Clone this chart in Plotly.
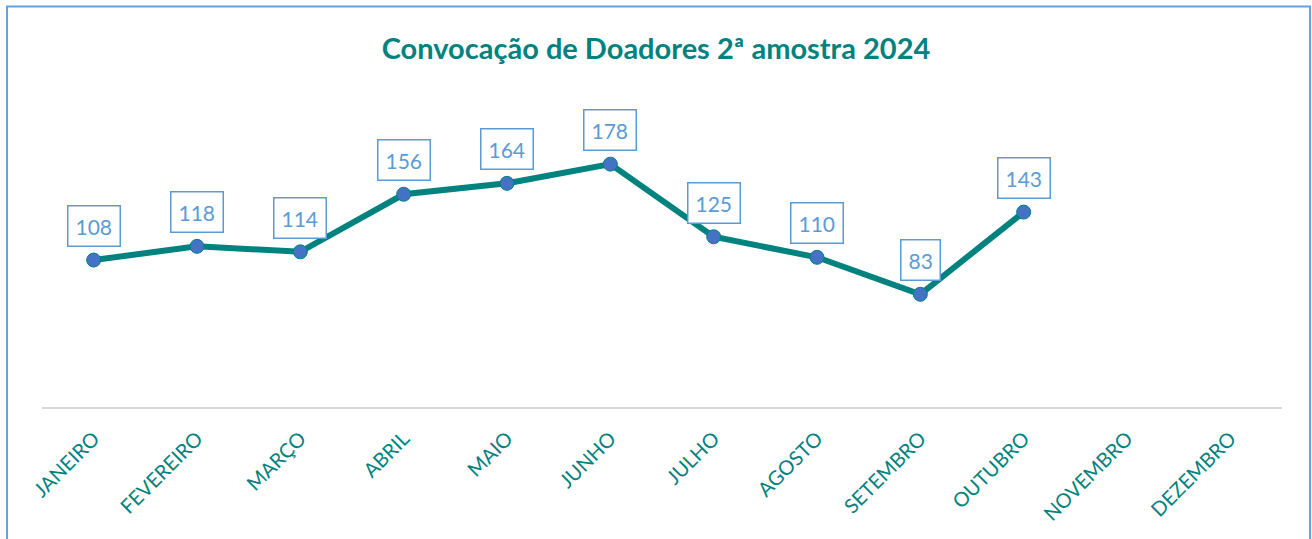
import plotly.graph_objects as go

# Monthly donor call-ups, second sample, 2024
meses = ["JANEIRO", "FEVEREIRO", "MARÇO", "ABRIL", "MAIO", "JUNHO",
         "JULHO", "AGOSTO", "SETEMBRO", "OUTUBRO", "NOVEMBRO", "DEZEMBRO"]
convocados = [108, 118, 114, 156, 164, 178, 125, 110, 83, 143, None, None]

TEAL = "#00827F"
BLUE_MARK = "#4472C4"
BOX_BLUE = "#5B9BD5"
FONT = "Lato"

fig = go.Figure()
fig.add_trace(go.Scatter(
    x=meses, y=convocados, mode="lines+markers",
    line=dict(color=TEAL, width=6),
    marker=dict(color=BLUE_MARK, size=14, line=dict(color=TEAL, width=1)),
    cliponaxis=False, showlegend=False, hoverinfo="x+y",
))

# Boxed value labels above each point
for m, v in zip(meses, convocados):
    if v is None:
        continue
    fig.add_annotation(
        x=m, y=v, text=str(v), showarrow=False, yshift=34,
        font=dict(family=FONT, size=21, color=BOX_BLUE),
        bordercolor=BOX_BLUE, borderwidth=1.5, borderpad=7, bgcolor="white",
    )

# Outer frame of the chart area
fig.add_shape(type="rect", xref="paper", yref="paper",
              x0=-0.0282, x1=1.0226, y0=-0.7, y1=1.4656,
              line=dict(color="#6A9FD8", width=2), layer="below")

fig.update_layout(
    width=1312, height=539,
    margin=dict(l=42, r=30, t=134, b=131),
    paper_bgcolor="white", plot_bgcolor="white",
    title=dict(text="<b>Convocação de Doadores 2ª amostra 2024</b>",
               x=0.5, xanchor="center", y=0.91, yanchor="middle",
               font=dict(family=FONT, size=29, color=TEAL)),
    xaxis=dict(type="category", range=[-0.5, 11.5], tickangle=-45,
               showgrid=False, zeroline=False, showline=False, ticks="",
               ticklabelstandoff=14,
               tickfont=dict(family=FONT, size=20, color=TEAL)),
    yaxis=dict(range=[0, 200], showgrid=False, showticklabels=False,
               zeroline=True, zerolinecolor="#D9D9D9", zerolinewidth=2,
               showline=False, ticks=""),
)

fig.write_html("out.html")
